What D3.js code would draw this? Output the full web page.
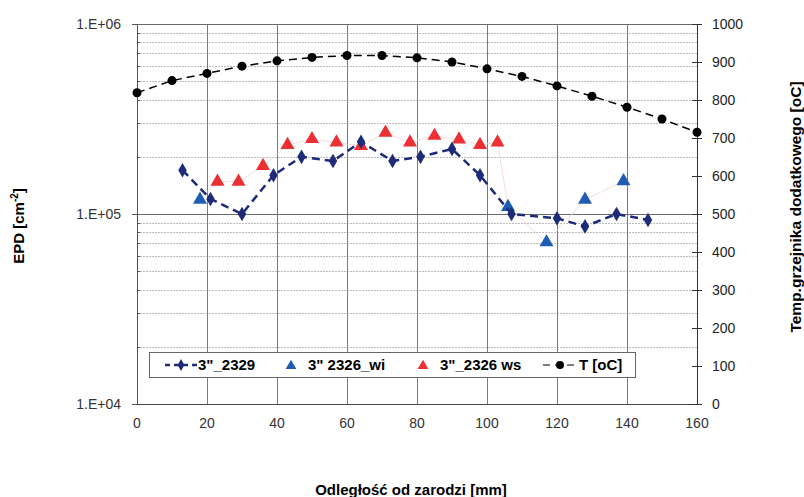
<!DOCTYPE html>
<html>
<head>
<meta charset="utf-8">
<script src="https://cdn.jsdelivr.net/npm/d3@7"></script>
<style>
  body { margin: 0; background: #fff; }
  text { font-family: Arial, "Liberation Sans", sans-serif; }
</style>
</head>
<body>
<svg id="chart" width="804" height="497"></svg>
<script>
// odleglosc od zarodzi [mm] and EPD values
var x2329 = [13, 21, 30, 39, 47, 56, 64, 73, 81, 90, 98, 107, 120, 128, 137, 146];
var epd2329 = [170000, 120000, 100000, 160000, 200000, 190000, 240000, 190000, 200000, 220000, 160000, 100000, 95000, 86000, 100000, 93000];

var xWi = [18, 106, 117, 128, 139];
var epdWi = [119000, 109000, 71000, 119000, 149000];

var xWs = [23, 29, 36, 43, 50, 57, 64, 71, 78, 85, 92, 98, 103];
var epdWs = [148000, 148000, 179000, 231000, 248000, 238000, 228000, 268000, 238000, 258000, 247000, 231000, 238000];

var xT = [0, 10, 20, 30, 40, 50, 60, 70, 80, 90, 100, 110, 120, 130, 140, 150, 160];
var tempT = [819, 851, 870, 889, 903, 912, 917, 917, 911, 900, 882, 862, 837, 810, 781, 750, 715];

var xTicks = [0, 20, 40, 60, 80, 100, 120, 140, 160];
var leftTicks = [1e4, 1e5, 1e6];
var leftTickLabels = ["1.E+04", "1.E+05", "1.E+06"];
var rightTicks = [0, 100, 200, 300, 400, 500, 600, 700, 800, 900, 1000];
var seriesNames = ["3\"_2329", "3\" 2326_wi", "3\"_2326 ws", "T [oC]"];

var navy = "#1d2b78", blue = "#1f5db3", red = "#ec2f33";

var margin = {top: 24, right: 107, bottom: 93, left: 137},
    width = 804, height = 497,
    innerwidth = width - margin.left - margin.right,
    innerheight = height - margin.top - margin.bottom;

var svg = d3.select("#chart")
    .append("g")
    .attr("transform", "translate(" + margin.left + "," + margin.top + ")");

var x = d3.scaleLinear().domain([0, 160]).range([0, innerwidth]);
var yL = d3.scaleLog().domain([1e4, 1e6]).range([innerheight, 0]);
var yR = d3.scaleLinear().domain([0, 1000]).range([innerheight, 0]);

// minor log grid (dotted)
var minor = [];
[1e4, 1e5].forEach(function(dec) {
    for (var k = 2; k <= 9; k++) minor.push(dec * k);
});
svg.append("g").selectAll("line").data(minor).enter().append("line")
    .attr("x1", 0).attr("x2", innerwidth)
    .attr("y1", function(d) { return Math.round(yL(d)) + 0.5; })
    .attr("y2", function(d) { return Math.round(yL(d)) + 0.5; })
    .attr("stroke", "#bcbcbc")
    .attr("stroke-dasharray", "2,1");

// vertical grid
svg.append("g").selectAll("line").data(xTicks.slice(1, -1)).enter().append("line")
    .attr("x1", function(d) { return Math.round(x(d)) + 0.5; })
    .attr("x2", function(d) { return Math.round(x(d)) + 0.5; })
    .attr("y1", 0).attr("y2", innerheight)
    .attr("stroke", "#7a7a7a");

// major horizontal grid
svg.append("g").selectAll("line").data(leftTicks.slice(1)).enter().append("line")
    .attr("x1", 0).attr("x2", innerwidth)
    .attr("y1", function(d) { return Math.round(yL(d)) + 0.5; })
    .attr("y2", function(d) { return Math.round(yL(d)) + 0.5; })
    .attr("stroke", "#6a6a6a");

// axes
var axisColor = "#555";
svg.append("line").attr("x1", 0.5).attr("x2", 0.5).attr("y1", 0).attr("y2", innerheight)
    .attr("stroke", axisColor);
svg.append("line").attr("x1", innerwidth + 0.5).attr("x2", innerwidth + 0.5).attr("y1", 0).attr("y2", innerheight)
    .attr("stroke", "#333");
svg.append("line").attr("x1", 0).attr("x2", innerwidth).attr("y1", innerheight + 0.5).attr("y2", innerheight + 0.5)
    .attr("stroke", "#444");

// left ticks: major outward, minor inward
svg.append("g").selectAll("line").data(leftTicks).enter().append("line")
    .attr("x1", -5).attr("x2", 0)
    .attr("y1", function(d) { return Math.round(yL(d)) + 0.5; })
    .attr("y2", function(d) { return Math.round(yL(d)) + 0.5; })
    .attr("stroke", axisColor);
svg.append("g").selectAll("line").data(minor).enter().append("line")
    .attr("x1", 0).attr("x2", 3)
    .attr("y1", function(d) { return Math.round(yL(d)) + 0.5; })
    .attr("y2", function(d) { return Math.round(yL(d)) + 0.5; })
    .attr("stroke", axisColor);
svg.append("g").selectAll("text").data(leftTicks).enter().append("text")
    .attr("x", -16)
    .attr("y", function(d) { return yL(d); })
    .attr("dy", "0.35em")
    .attr("text-anchor", "end")
    .attr("font-size", 14)
    .attr("fill", "#333")
    .text(function(d, i) { return leftTickLabels[i]; });

// right ticks
svg.append("g").selectAll("line").data(rightTicks).enter().append("line")
    .attr("x1", innerwidth - 5).attr("x2", innerwidth + 5)
    .attr("y1", function(d) { return Math.round(yR(d)) + 0.5; })
    .attr("y2", function(d) { return Math.round(yR(d)) + 0.5; })
    .attr("stroke", "#333");
svg.append("g").selectAll("text").data(rightTicks).enter().append("text")
    .attr("x", innerwidth + 15)
    .attr("y", function(d) { return yR(d); })
    .attr("dy", "0.35em")
    .attr("font-size", 14)
    .attr("fill", "#222")
    .text(function(d) { return d; });

// x tick labels
svg.append("g").selectAll("text").data(xTicks).enter().append("text")
    .attr("x", function(d) { return x(d); })
    .attr("y", innerheight + 19)
    .attr("dy", "0.35em")
    .attr("text-anchor", "middle")
    .attr("font-size", 14)
    .attr("fill", "#333")
    .text(function(d) { return d; });

// titles
d3.select("#chart").append("text")
    .attr("transform", "translate(24,226) rotate(-90)")
    .attr("text-anchor", "middle")
    .attr("font-size", 15).attr("font-weight", "bold")
    .call(function(t) {
        t.append("tspan").text("EPD [cm");
        t.append("tspan").attr("dy", -6).attr("font-size", 10).text("-2");
        t.append("tspan").attr("dy", 6).text("]");
    });
d3.select("#chart").append("text")
    .attr("transform", "translate(801,207) rotate(-90)")
    .attr("text-anchor", "middle")
    .attr("font-size", 15.5).attr("font-weight", "bold")
    .text("Temp.grzejnika dodatkowego [oC]");
d3.select("#chart").append("text")
    .attr("x", 411).attr("y", 495)
    .attr("text-anchor", "middle")
    .attr("font-size", 15).attr("font-weight", "bold")
    .text("Odległość od zarodzi [mm]");

// legend box
var lg = d3.select("#chart").append("g").attr("transform", "translate(149,352)");
lg.append("rect").attr("x", 0.5).attr("y", 0.5).attr("width", 486).attr("height", 25)
    .attr("fill", "#fff").attr("stroke", "#666");

// faint line through the 2326 points (wi + ws)
var pts2326 = xWi.map(function(d, i) { return [d, epdWi[i]]; })
    .concat(xWs.map(function(d, i) { return [d, epdWs[i]]; }))
    .sort(function(a, b) { return a[0] - b[0]; });
svg.append("path")
    .datum(pts2326)
    .attr("fill", "none")
    .attr("stroke", "#f5d3d3")
    .attr("stroke-width", 0.8)
    .attr("d", d3.line().x(function(d) { return x(d[0]); }).y(function(d) { return yL(d[1]); }));

var tri = d3.symbol().type(d3.symbolTriangle).size(85);
var dia = d3.symbol().type(d3.symbolDiamond).size(62);

svg.append("g").selectAll("path").data(xWs).enter().append("path")
    .attr("d", tri)
    .attr("transform", function(d, i) { return "translate(" + x(d) + "," + yL(epdWs[i]) + ")"; })
    .attr("fill", red);
svg.append("g").selectAll("path").data(xWi).enter().append("path")
    .attr("d", tri)
    .attr("transform", function(d, i) { return "translate(" + x(d) + "," + yL(epdWi[i]) + ")"; })
    .attr("fill", blue);

// 3"_2329
svg.append("path")
    .datum(x2329)
    .attr("fill", "none")
    .attr("stroke", navy)
    .attr("stroke-width", 2.5)
    .attr("stroke-dasharray", "8,5")
    .attr("d", d3.line().x(function(d) { return x(d); }).y(function(d, i) { return yL(epd2329[i]); }));
svg.append("g").selectAll("path").data(x2329).enter().append("path")
    .attr("d", dia)
    .attr("transform", function(d, i) { return "translate(" + x(d) + "," + yL(epd2329[i]) + ")"; })
    .attr("fill", navy);

// T [oC]
svg.append("path")
    .datum(xT)
    .attr("fill", "none")
    .attr("stroke", "#000")
    .attr("stroke-width", 1.5)
    .attr("stroke-dasharray", "8,5")
    .attr("d", d3.line().x(function(d) { return x(d); }).y(function(d, i) { return yR(tempT[i]); }));
svg.append("g").selectAll("circle").data(xT).enter().append("circle")
    .attr("cx", function(d) { return x(d); })
    .attr("cy", function(d, i) { return yR(tempT[i]); })
    .attr("r", 4.5)
    .attr("fill", "#000");

// legend entries
var ly = 13;
lg.append("line").attr("x1", 16).attr("x2", 48).attr("y1", ly).attr("y2", ly)
    .attr("stroke", navy).attr("stroke-width", 2.5).attr("stroke-dasharray", "5,4");
lg.append("path").attr("d", d3.symbol().type(d3.symbolDiamond).size(40))
    .attr("transform", "translate(32," + ly + ")").attr("fill", navy);
lg.append("path").attr("d", d3.symbol().type(d3.symbolTriangle).size(50))
    .attr("transform", "translate(142," + (ly + 1) + ")").attr("fill", blue);
lg.append("path").attr("d", d3.symbol().type(d3.symbolTriangle).size(50))
    .attr("transform", "translate(274," + (ly + 1) + ")").attr("fill", red);
lg.append("line").attr("x1", 394).attr("x2", 428).attr("y1", ly).attr("y2", ly)
    .attr("stroke", "#000").attr("stroke-width", 1.2).attr("stroke-dasharray", "7,5");
lg.append("circle").attr("cx", 411).attr("cy", ly).attr("r", 4).attr("fill", "#000");

var legendX = [49, 159, 291, 430];
lg.selectAll("text.lbl").data(seriesNames).enter().append("text")
    .attr("class", "lbl")
    .attr("x", function(d, i) { return legendX[i]; })
    .attr("y", ly)
    .attr("dy", "0.36em")
    .attr("font-size", 15).attr("font-weight", "bold")
    .text(function(d) { return d; });
</script>
</body>
</html>
